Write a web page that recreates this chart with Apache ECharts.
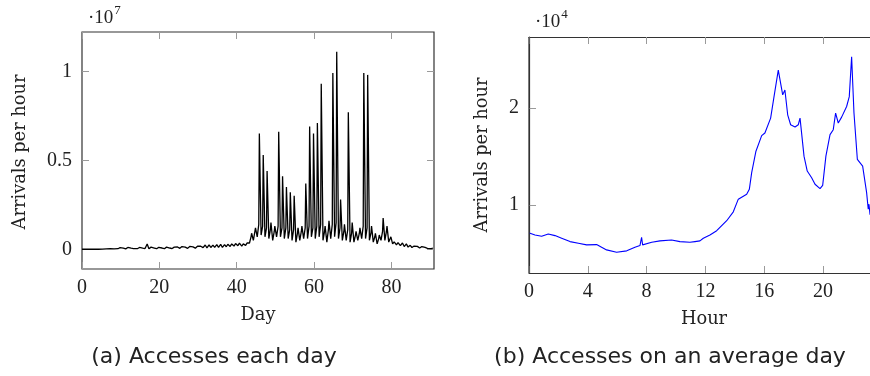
<!DOCTYPE html>
<html><head><meta charset="utf-8">
<script src="https://cdn.jsdelivr.net/npm/echarts@6/dist/echarts.min.js"></script>
<style>html,body{margin:0;padding:0;background:#fff}#c{width:870px;height:376px}</style>
</head><body><div id="c"></div>
<script>
// ---- Data (a): arrivals per hour, in units of 1e7: daily trough, evening level, daily peak ----
const dayLow = [0,0,0,0,0,0.001,
 0.002,0.003,0.002,0.003,0.003,0.002,0.003,0.004,0.003,0.003,
 0.004,
 0.003,0.004,0.003,0.004,0.003,0.004,0.004,
 0.005,0.005,0.006,0.005,0.006,0.006,
 0.008,0.009,0.008,0.010,0.010,0.011,0.010,
 0.014,0.016,0.018,0.020,0.018,0.022,
 0.035,0.050,
 0.07,0.08,0.07,0.06,0.05,0.07,0.07,0.06,0.06,0.05,0.04,0.05,0.06,0.06,0.07,0.06,0.07,0.05,0.04,0.06,0.07,0.06,0.05,0.05,0.04,0.04,0.05,0.06,0.06,0.05,0.04,0.03,0.05,0.05,0.04,
 0.030,0.025,0.020,0.015,0.012,0.010,0.008,0.007,0.006,0.005,0.004];
const dayBase = [0,0,0,0,0,0.003,
 0.005,0.006,0.004,0.006,0.006,0.007,0.006,0.007,0.007,0.006,
 0.012,
 0.008,0.007,0.008,0.007,0.009,0.007,0.009,
 0.013,0.011,0.012,0.012,0.013,0.012,
 0.017,0.018,0.019,0.018,0.020,0.021,0.020,
 0.028,0.030,0.032,0.034,0.030,0.036,
 0.07,0.10,
 0.14,0.13,0.12,0.11,0.10,0.13,0.12,0.12,0.11,0.11,0.09,0.10,0.12,0.13,0.12,0.13,0.14,0.10,0.11,0.14,0.15,0.12,0.10,0.11,0.09,0.08,0.09,0.13,0.12,0.09,0.07,0.06,0.10,0.10,0.05,
 0.042,0.037,0.030,0.025,0.018,0.015,0.016,0.012,0.010,0.008,0.006];
const dayHigh = [0,0,0,0,0,0.005,
 0.007,0.008,0.006,0.009,0.008,0.010,0.008,0.009,0.010,0.009,
 0.030,
 0.012,0.010,0.011,0.010,0.012,0.010,0.012,
 0.018,0.015,0.017,0.016,0.018,0.017,
 0.022,0.024,0.025,0.023,0.026,0.028,0.026,
 0.035,0.038,0.040,0.042,0.038,0.045,
 0.09,0.12,
 0.65,0.53,0.44,0.15,0.13,0.66,0.41,0.35,0.32,0.30,0.12,0.13,0.37,0.69,0.65,0.71,0.93,0.13,0.16,0.99,1.11,0.28,0.14,0.77,0.15,0.10,0.12,0.99,0.98,0.13,0.09,0.08,0.175,0.13,0.07,
 0.050,0.045,0.035,0.030,0.022,0.018,0.020,0.015,0.012,0.010,0.008];
const dayTicks = [0,20,40,60,80];
const dayYTicks = [0,0.5,1];

// ---- Data (b): arrivals per hour on an average day, in units of 1e4 ----
const hours = [0.02,0.41,0.86,1.31,1.77,2.22,2.79,3.36,3.92,4.6,4.94,5.28,5.96,6.65,7.21,7.55,7.66,7.73,8.35,8.91,9.7,10.27,10.95,11.29,11.63,11.86,12.31,12.77,13.45,13.9,14.24,14.81,14.99,15.15,15.44,15.83,16.05,16.44,16.67,16.96,17.26,17.41,17.6,17.8,18.1,18.32,18.44,18.71,18.93,19.23,19.46,19.8,19.98,20.2,20.48,20.7,20.86,21.04,21.27,21.61,21.79,21.95,22.11,22.34,22.7,22.97,23.08,23.13,23.2,23.3];
const avgDay = [0.709,0.689,0.675,0.699,0.682,0.655,0.62,0.603,0.586,0.589,0.562,0.534,0.51,0.524,0.562,0.579,0.665,0.586,0.613,0.627,0.637,0.62,0.613,0.62,0.627,0.655,0.689,0.733,0.836,0.928,1.059,1.11,1.161,1.333,1.555,1.716,1.744,1.898,2.12,2.395,2.138,2.189,1.932,1.829,1.805,1.829,1.898,1.504,1.35,1.281,1.213,1.168,1.202,1.504,1.727,1.778,1.95,1.847,1.908,2.018,2.12,2.532,1.95,1.47,1.401,1.127,0.956,1.007,0.904,0.88];
const hourTicks = [0,4,8,12,16,20];
const hourYTicks = [1,2];

// build series points
const seriesA = [];
for (let d = 0; d < dayLow.length; d++) {
  seriesA.push([d + 0.3, dayLow[d]]);
  seriesA.push([d + 0.7, dayBase[d]]);
  seriesA.push([d + 0.85, dayHigh[d]]);
}
seriesA[0][0] = 0;
const seriesB = hours.map((h, i) => [h, avgDay[i]]);

const serif = '"Liberation Serif", "DejaVu Serif", serif';
const labelSerif = '"DejaVu Serif", "Liberation Serif", serif';
const sans = '"DejaVu Sans", "Open Sans", sans-serif';
function tickStyle(ticks) { return {customValues: ticks, inside: true, length: 7, lineStyle: {color: '#9a9a9a', width: 1}}; }
function lineStyleOf(show) { return show ? {show: true, onZero: false, lineStyle: {color: '#333', width: 1.2}} : {show: false, onZero: false}; }

function xAx(gi, min, max, ticks, top, line) {
  return {
    type: 'value', gridIndex: gi, min, max, position: top ? 'top' : 'bottom',
    axisLine: lineStyleOf(line),
    splitLine: {show: false},
    axisTick: tickStyle(ticks),
    axisLabel: {show: !top, customValues: ticks, color: '#222', fontFamily: serif, fontSize: 20, margin: 9},
  };
}
function yAx(gi, min, max, ticks, right, line) {
  return {
    type: 'value', gridIndex: gi, min, max, position: right ? 'right' : 'left',
    axisLine: lineStyleOf(line),
    splitLine: {show: false},
    axisTick: tickStyle(ticks),
    axisLabel: {show: !right, customValues: ticks, color: '#222', fontFamily: serif, fontSize: 20, margin: 10},
  };
}

const chart = echarts.init(document.getElementById('c'), null, {renderer: 'canvas'});
chart.setOption({
  animation: false,
  backgroundColor: '#fff',
  grid: [
    {left: 82, right: 436, top: 32, bottom: 107, show: true, borderColor: '#333', borderWidth: 1.2, backgroundColor: 'transparent'},
    {left: 529, right: 0, top: 37, bottom: 103, show: false}
  ],
  xAxis: [
    xAx(0, 0, 91, dayTicks, false, false), xAx(0, 0, 91, dayTicks, true, false),
    xAx(1, 0, 23.2, hourTicks, false, true), xAx(1, 0, 23.2, hourTicks, true, true)
  ],
  yAxis: [
    yAx(0, -0.111, 1.221, dayYTicks, false, false), yAx(0, -0.111, 1.221, dayYTicks, true, false),
    yAx(1, 0.295, 2.737, hourYTicks, false, true)
  ],
  series: [
    {type: 'line', xAxisIndex: 0, yAxisIndex: 0, data: seriesA, showSymbol: false, lineStyle: {color: '#000', width: 1.3}, clip: true},
    {type: 'line', xAxisIndex: 2, yAxisIndex: 2, data: seriesB, showSymbol: false, lineStyle: {color: '#0000ff', width: 1.1}, clip: true}
  ],
  graphic: [
    {type: 'line', shape: {x1: 529, y1: 37, x2: 529, y2: 273}, style: {stroke: '#333', lineWidth: 1.2}, z: 100},
    {type: 'text', left: 88, top: 4, style: {text: '{a|·10}{s|7}', rich: {a: {fontFamily: serif, fontSize: 19, fill: '#222', verticalAlign: 'bottom', lineHeight: 24}, s: {fontFamily: serif, fontSize: 13, fill: '#222', verticalAlign: 'top', lineHeight: 24, padding: [0,0,9,1]}}}},
    {type: 'text', left: 535, top: 8, style: {text: '{a|·10}{s|4}', rich: {a: {fontFamily: serif, fontSize: 19, fill: '#222', verticalAlign: 'bottom', lineHeight: 24}, s: {fontFamily: serif, fontSize: 13, fill: '#222', verticalAlign: 'top', lineHeight: 24, padding: [0,0,9,1]}}}},
    {type: 'text', x: 20, y: 152, rotation: Math.PI / 2, style: {text: 'Arrivals per hour', fontFamily: labelSerif, fontSize: 17.8, fill: '#222', align: 'center', verticalAlign: 'middle'}},
    {type: 'text', x: 482, y: 155, rotation: Math.PI / 2, style: {text: 'Arrivals per hour', fontFamily: labelSerif, fontSize: 17.8, fill: '#222', align: 'center', verticalAlign: 'middle'}},
    {type: 'text', x: 258, y: 315, style: {text: 'Day', fontFamily: labelSerif, fontSize: 17.8, fill: '#222', align: 'center', verticalAlign: 'middle'}},
    {type: 'text', x: 704, y: 319, style: {text: 'Hour', fontFamily: labelSerif, fontSize: 17.8, fill: '#222', align: 'center', verticalAlign: 'middle'}},
    {type: 'text', x: 214, y: 357, style: {text: '(a) Accesses each day', fontFamily: sans, fontSize: 22, fill: '#222', align: 'center', verticalAlign: 'middle'}},
    {type: 'text', x: 670, y: 357, style: {text: '(b) Accesses on an average day', fontFamily: sans, fontSize: 22, fill: '#222', align: 'center', verticalAlign: 'middle'}}
  ]
});
</script></body></html>
